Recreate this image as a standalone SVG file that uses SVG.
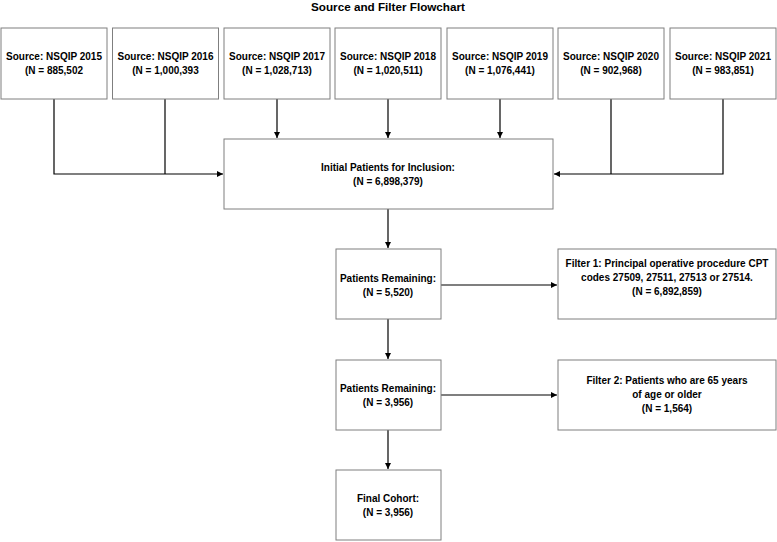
<svg xmlns="http://www.w3.org/2000/svg" width="777" height="542" viewBox="0 0 777 542">
<style>
.box{fill:#fff;stroke:#7f7f7f;stroke-width:1}
.t{font-family:"Liberation Sans",Arial,sans-serif;font-weight:bold;font-size:10px;fill:#000;text-anchor:middle}
.title{font-family:"Liberation Sans",Arial,sans-serif;font-weight:bold;font-size:11.7px;fill:#000;text-anchor:middle}
.c{fill:none;stroke:#000;stroke-width:1.2}
</style>
<defs>
<marker id="ah" viewBox="0 0 10 10" refX="10" refY="5" markerWidth="6" markerHeight="6" orient="auto" markerUnits="userSpaceOnUse">
<path d="M0,0 L10,5 L0,10 z" fill="#000"/>
</marker>
</defs>
<rect width="777" height="542" fill="#fff"/>
<text class="title" x="388" y="11">Source and Filter Flowchart</text>
<g id="connectors">
<path class="c" d="M54,99 V174 H223" marker-end="url(#ah)"/>
<path class="c" d="M165,99 V174"/>
<path class="c" d="M277,99 V138" marker-end="url(#ah)"/>
<path class="c" d="M388,99 V138" marker-end="url(#ah)"/>
<path class="c" d="M500,99 V138" marker-end="url(#ah)"/>
<path class="c" d="M723,99 V174 H554" marker-end="url(#ah)"/>
<path class="c" d="M611,99 V174"/>
<path class="c" d="M388,209 V248" marker-end="url(#ah)"/>
<path class="c" d="M441,285 H557" marker-end="url(#ah)"/>
<path class="c" d="M388,319 V359" marker-end="url(#ah)"/>
<path class="c" d="M441,395 H557" marker-end="url(#ah)"/>
<path class="c" d="M388,430 V469" marker-end="url(#ah)"/>
</g>
<g id="src2015"><rect class="box" x="1" y="28" width="106" height="71"/><text class="t" x="54" y="60">Source: NSQIP 2015</text><text class="t" x="54" y="74">(N = 885,502</text></g>
<g id="src2016"><rect class="box" x="112.5" y="28" width="106" height="71"/><text class="t" x="165.5" y="60">Source: NSQIP 2016</text><text class="t" x="165.5" y="74">(N = 1,000,393</text></g>
<g id="src2017"><rect class="box" x="224" y="28" width="106" height="71"/><text class="t" x="277" y="60">Source: NSQIP 2017</text><text class="t" x="277" y="74">(N = 1,028,713)</text></g>
<g id="src2018"><rect class="box" x="335" y="28" width="106" height="71"/><text class="t" x="388" y="60">Source: NSQIP 2018</text><text class="t" x="388" y="74">(N = 1,020,511)</text></g>
<g id="src2019"><rect class="box" x="447" y="28" width="106" height="71"/><text class="t" x="500" y="60">Source: NSQIP 2019</text><text class="t" x="500" y="74">(N = 1,076,441)</text></g>
<g id="src2020"><rect class="box" x="558" y="28" width="106" height="71"/><text class="t" x="611" y="60">Source: NSQIP 2020</text><text class="t" x="611" y="74">(N = 902,968)</text></g>
<g id="src2021"><rect class="box" x="670" y="28" width="106" height="71"/><text class="t" x="723" y="60">Source: NSQIP 2021</text><text class="t" x="723" y="74">(N = 983,851)</text></g>
<g id="initial"><rect class="box" x="224" y="139" width="329" height="70"/><text class="t" x="388" y="171">Initial Patients for Inclusion:</text><text class="t" x="388" y="185">(N = 6,898,379)</text></g>
<g id="remaining1"><rect class="box" x="336" y="249" width="105" height="70"/><text class="t" x="388" y="282">Patients Remaining:</text><text class="t" x="388" y="296">(N = 5,520)</text></g>
<g id="filter1"><rect class="box" x="558" y="249" width="218" height="70"/><text class="t" x="667" y="267">Filter 1: Principal operative procedure CPT</text><text class="t" x="667" y="281">codes 27509, 27511, 27513 or 27514.</text><text class="t" x="667" y="295">(N = 6,892,859)</text></g>
<g id="remaining2"><rect class="box" x="336" y="360" width="105" height="70"/><text class="t" x="388" y="392">Patients Remaining:</text><text class="t" x="388" y="406">(N = 3,956)</text></g>
<g id="filter2"><rect class="box" x="558" y="360" width="218" height="70"/><text class="t" x="667" y="384">Filter 2: Patients who are 65 years</text><text class="t" x="667" y="398">of age or older</text><text class="t" x="667" y="412">(N = 1,564)</text></g>
<g id="final"><rect class="box" x="336" y="470" width="105" height="70"/><text class="t" x="388" y="502">Final Cohort:</text><text class="t" x="388" y="516">(N = 3,956)</text></g>
</svg>
